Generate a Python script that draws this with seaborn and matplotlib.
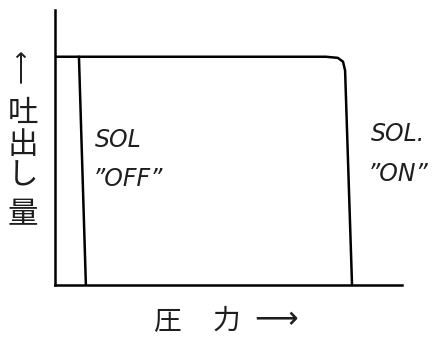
import matplotlib
matplotlib.use("Agg")
import matplotlib.pyplot as plt
import seaborn as sns
import pandas as pd

# ---- data (units: pressure 0-100, discharge 0-100) ----
on_pressure = [0, 78, 81.5, 83.0, 83.6, 85.6]
on_flow = [83, 83, 82.6, 81.2, 78, 0]
off_pressure = [6.9, 8.9]
off_flow = [83, 0]

y_label_chars = ["吐", "出", "し", "量"]
x_label_chars = ["圧", "力"]
arrow = "\u27f6"
off_label = ["SOL", "\u201dOFF\u201d"]
on_label = ["SOL.", "\u201dON\u201d"]

sns.set_theme(style="white")
plt.rcParams["font.family"] = ["Noto Sans CJK JP", "DejaVu Sans"]

W, H = 445, 348
fig = plt.figure(figsize=(W / 100, H / 100), dpi=100)
fig.patch.set_facecolor("white")
ax = fig.add_axes([55 / W, 63 / H, (402 - 55) / W, (285 - 10) / H])
ax.set_facecolor("white")

df_on = pd.DataFrame({"pressure": on_pressure, "flow": on_flow})
df_off = pd.DataFrame({"pressure": off_pressure, "flow": off_flow})
sns.lineplot(data=df_on, x="pressure", y="flow", sort=False, estimator=None,
             color="black", lw=1.8, ax=ax)
sns.lineplot(data=df_off, x="pressure", y="flow", sort=False, estimator=None,
             color="black", lw=1.8, ax=ax)

ax.set_xlim(0, 100)
ax.set_ylim(0, 100)
ax.set_xticks([])
ax.set_yticks([])
ax.set_xlabel("")
ax.set_ylabel("")
for s in ["top", "right"]:
    ax.spines[s].set_visible(False)
for s in ["left", "bottom"]:
    ax.spines[s].set_color("black")
    ax.spines[s].set_linewidth(1.8)

def px(x, y):
    return x / W, 1 - y / H

TXT = "#1e1e1e"

# y-axis label: arrow up, then stacked characters
fig.text(*px(21, 66), arrow, ha="center", va="center", fontsize=17,
         rotation=90, family=["DejaVu Sans"], color=TXT)
ys = [113, 146, 176, 215]
for ch, yy in zip(y_label_chars, ys):
    fig.text(*px(23, yy), ch, ha="center", va="center", fontsize=22,
             color=TXT)

# x-axis label
for ch, xx in zip(x_label_chars, [167, 226]):
    fig.text(*px(xx, 321), ch, ha="center", va="center", fontsize=20,
             color=TXT)
fig.text(*px(276, 320), arrow, ha="center", va="center", fontsize=22,
         family=["DejaVu Sans"], color=TXT)

# SOL OFF
fig.text(*px(118, 140), off_label[0], ha="center", va="center", fontsize=17,
         style="italic", family=["DejaVu Sans"], color=TXT)
fig.text(*px(128, 179), off_label[1], ha="center", va="center", fontsize=17,
         style="italic", family=["DejaVu Sans"], color=TXT)
# SOL ON
fig.text(*px(398, 134), on_label[0], ha="center", va="center", fontsize=17,
         style="italic", family=["DejaVu Sans"], color=TXT)
fig.text(*px(398, 174), on_label[1], ha="center", va="center", fontsize=17,
         style="italic", family=["DejaVu Sans"], color=TXT)

fig.savefig("out.png", dpi=100, facecolor="white")
